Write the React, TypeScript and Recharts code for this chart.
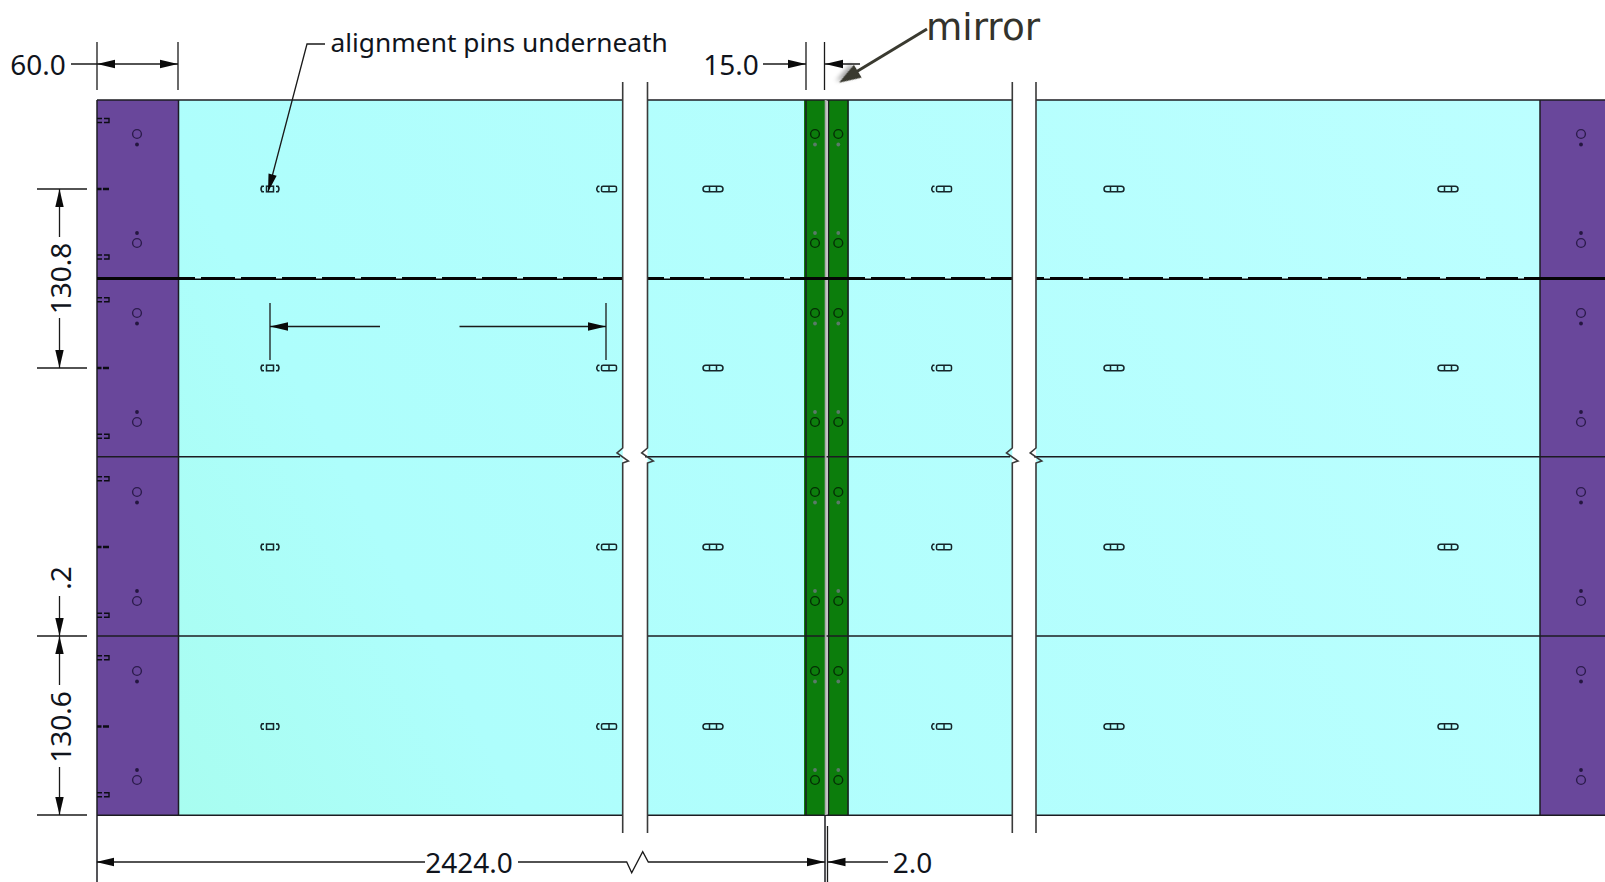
import { ReferenceArea, Scatter, ScatterChart, XAxis, YAxis } from "recharts";

type Pt = { x: number; y: number };

const purpleBands = [[97, 178.5], [1540, 1605]];
const cyanBands = [[178.5, 804], [848, 1540]];
const greenBands = [[804, 825], [828, 848.5]];
const breakGaps = [[622.7, 647.5], [1012.3, 1036]];

const solidSlotXs = [713, 1114, 1448];
const splitSlotXs = [606, 941];
const brokenSlotXs = [270];
const rowMidYs = [189, 368, 547, 726.5];
const upperHoleYs = [134, 313, 492, 671];
const lowerHoleYs = [243, 422, 601, 780];
const upperDotYs = [144.5, 323.5, 502.5, 681.5];
const lowerDotYs = [233, 412, 591, 770];
const purpleHoleXs = [137, 1581];
const greenHoleXs = [815, 838.3];
const upperTickYs = [120.5, 299.7, 478.7, 657.7];
const lowerTickYs = [257, 436.3, 615.3, 794.7];
const jointNotchXs = [
  198, 238, 279, 319, 358, 399, 439, 479, 520, 560, 600, 667, 707, 747, 787, 868, 908, 948, 988,
  1047, 1086, 1126, 1166, 1206, 1245, 1285, 1325, 1364, 1404, 1443, 1483, 1521,
];

const outlines: Pt[][] = [
  [{ x: 97, y: 100 }, { x: 622.7, y: 100 }],
  [{ x: 647.5, y: 100 }, { x: 1012.3, y: 100 }],
  [{ x: 1036, y: 100 }, { x: 1605, y: 100 }],
  [{ x: 97, y: 456.7 }, { x: 620, y: 456.7 }],
  [{ x: 645, y: 456.7 }, { x: 1010, y: 456.7 }],
  [{ x: 1034, y: 456.7 }, { x: 1605, y: 456.7 }],
  [{ x: 97, y: 636 }, { x: 622.7, y: 636 }],
  [{ x: 647.5, y: 636 }, { x: 1012.3, y: 636 }],
  [{ x: 1036, y: 636 }, { x: 1605, y: 636 }],
  [{ x: 97, y: 815.3 }, { x: 622.7, y: 815.3 }],
  [{ x: 647.5, y: 815.3 }, { x: 1012.3, y: 815.3 }],
  [{ x: 1036, y: 815.3 }, { x: 1605, y: 815.3 }],
  [{ x: 97, y: 100 }, { x: 97, y: 882 }],
  [{ x: 178.5, y: 100 }, { x: 178.5, y: 815 }],
  [{ x: 1540, y: 100 }, { x: 1540, y: 815 }],
  [{ x: 806, y: 100 }, { x: 806, y: 815 }],
  [{ x: 825, y: 815 }, { x: 825, y: 882 }],
  [{ x: 828.5, y: 100 }, { x: 828.5, y: 815 }],
  [{ x: 848, y: 100 }, { x: 848, y: 815 }],
];

const mirrorGapLine: Pt[] = [{ x: 825.7, y: 100 }, { x: 825.7, y: 815 }];

const jointLines: Pt[][] = [
  [{ x: 97, y: 278.5 }, { x: 622.7, y: 278.5 }],
  [{ x: 647.5, y: 278.5 }, { x: 1012.3, y: 278.5 }],
  [{ x: 1036, y: 278.5 }, { x: 1605, y: 278.5 }],
];

const breakLines: Pt[][] = [
  [{ x: 622.7, y: 82 }, { x: 622.7, y: 448 }, { x: 617, y: 453 }, { x: 628.3, y: 461 }, { x: 622.7, y: 463 }, { x: 622.7, y: 833 }],
  [{ x: 647.5, y: 82 }, { x: 647.5, y: 448 }, { x: 641.7, y: 453 }, { x: 653.3, y: 461 }, { x: 647.5, y: 463 }, { x: 647.5, y: 833 }],
  [{ x: 1012.3, y: 82 }, { x: 1012.3, y: 448 }, { x: 1006.5, y: 453 }, { x: 1018, y: 461 }, { x: 1012.3, y: 463 }, { x: 1012.3, y: 833 }],
  [{ x: 1036, y: 82 }, { x: 1036, y: 448 }, { x: 1030.2, y: 453 }, { x: 1041.8, y: 461 }, { x: 1036, y: 463 }, { x: 1036, y: 833 }],
];

const dimensionLines: Pt[][] = [
  // 60.0
  [{ x: 71, y: 64 }, { x: 178, y: 64 }],
  [{ x: 97, y: 42 }, { x: 97, y: 90 }],
  [{ x: 178, y: 42 }, { x: 178, y: 90 }],
  // leader for the pins
  [{ x: 325, y: 44 }, { x: 307, y: 44 }, { x: 268, y: 192 }],
  // 15.0
  [{ x: 763, y: 64 }, { x: 806, y: 64 }],
  [{ x: 825, y: 64 }, { x: 860, y: 64 }],
  [{ x: 806, y: 42 }, { x: 806, y: 90 }],
  [{ x: 824.5, y: 42 }, { x: 824.5, y: 90 }],
  // 130.8
  [{ x: 37, y: 189 }, { x: 87, y: 189 }],
  [{ x: 37, y: 368 }, { x: 87, y: 368 }],
  [{ x: 59.5, y: 189 }, { x: 59.5, y: 237 }],
  [{ x: 59.5, y: 318 }, { x: 59.5, y: 368 }],
  // .2 and 130.6
  [{ x: 37, y: 636 }, { x: 87, y: 636 }],
  [{ x: 37, y: 815 }, { x: 87, y: 815 }],
  [{ x: 59.5, y: 596 }, { x: 59.5, y: 685 }],
  [{ x: 59.5, y: 767 }, { x: 59.5, y: 815 }],
  // span between the two pins
  [{ x: 270, y: 303 }, { x: 270, y: 360 }],
  [{ x: 606, y: 303 }, { x: 606, y: 360 }],
  [{ x: 270, y: 326.5 }, { x: 380, y: 326.5 }],
  [{ x: 459.5, y: 326.5 }, { x: 606, y: 326.5 }],
  // 2424.0 and 2.0
  [{ x: 97, y: 862 }, { x: 425, y: 862 }],
  [{ x: 518, y: 862 }, { x: 626.7, y: 862 }, { x: 631.7, y: 872.7 }, { x: 642.7, y: 851.7 }, { x: 648.3, y: 862 }, { x: 825, y: 862 }],
  [{ x: 827.5, y: 862 }, { x: 888, y: 862 }],
  [{ x: 827.5, y: 826 }, { x: 827.5, y: 882 }],
];

const arrowHeads = [
  { x: 97, y: 64, angle: 180 },
  { x: 178, y: 64, angle: 0 },
  { x: 268, y: 192, angle: 104.8 },
  { x: 806, y: 64, angle: 0 },
  { x: 825, y: 64, angle: 180 },
  { x: 59.5, y: 189, angle: -90 },
  { x: 59.5, y: 368, angle: 90 },
  { x: 59.5, y: 636, angle: 90 },
  { x: 59.5, y: 636, angle: -90 },
  { x: 59.5, y: 815, angle: 90 },
  { x: 270, y: 326.5, angle: 180 },
  { x: 606, y: 326.5, angle: 0 },
  { x: 96, y: 862, angle: 180 },
  { x: 825, y: 862, angle: 0 },
  { x: 827.5, y: 862, angle: 180 },
];

const mirrorLeader: Pt[] = [{ x: 927, y: 29 }, { x: 856, y: 72 }];
const mirrorTip = [{ x: 839, y: 82.7, angle: 148.6 }];

const dimensionLabels = [
  { x: 38, y: 64, text: "60.0", rotate: 0 },
  { x: 731, y: 64, text: "15.0", rotate: 0 },
  { x: 469, y: 862, text: "2424.0", rotate: 0 },
  { x: 912.5, y: 862, text: "2.0", rotate: 0 },
  { x: 60, y: 278.5, text: "130.8", rotate: -90 },
  { x: 60, y: 578, text: ".2", rotate: -90 },
  { x: 60, y: 727, text: "130.6", rotate: -90 },
];
const leaderLabel = [{ x: 330.5, y: 42, text: "alignment pins underneath" }];
const mirrorLabel = [{ x: 926, y: 27, text: "mirror" }];

const cross = (xs: number[], ys: number[]) => xs.flatMap((x) => ys.map((y) => ({ x, y })));
const leftEdge = 97;

const NoMark = () => <g />;

const Arrow = ({ cx, cy, payload }: any) => (
  <polygon
    points="0,0 -18,-4.2 -18,4.2"
    fill="#0a0a0a"
    transform={`translate(${cx} ${cy}) rotate(${payload.angle})`}
  />
);

const MirrorArrow = ({ cx, cy, payload }: any) => (
  <polygon
    points="0,0 -22,-7.5 -22,7.5"
    fill="#3a3a30"
    style={{ filter: "drop-shadow(2px 3px 2px rgba(0,0,0,0.35))" }}
    transform={`translate(${cx} ${cy}) rotate(${payload.angle})`}
  />
);

const SolidSlot = ({ cx, cy }: any) => (
  <g fill="none" stroke="#16262a" strokeWidth={1.5}>
    <rect x={cx - 10} y={cy - 2.8} width={20} height={5.6} rx={2.8} />
    <path d={`M${cx - 3.5} ${cy - 2.8}V${cy + 2.8}M${cx + 3.5} ${cy - 2.8}V${cy + 2.8}`} />
  </g>
);

// left cap drawn apart from the rest of the slot
const SplitSlot = ({ cx, cy }: any) => (
  <g fill="none" stroke="#16262a" strokeWidth={1.5}>
    <path d={`M${cx - 6.5} ${cy - 2.8}H${cx - 8}Q${cx - 10.5} ${cy} ${cx - 8} ${cy + 2.8}H${cx - 6.5}`} />
    <rect x={cx - 4.5} y={cy - 2.8} width={15} height={5.6} rx={1.6} />
    <path d={`M${cx + 3} ${cy - 2.8}V${cy + 2.8}`} />
  </g>
);

const BrokenSlot = ({ cx, cy }: any) => (
  <g fill="none" stroke="#16262a" strokeWidth={1.5}>
    <path d={`M${cx - 6} ${cy - 2.8}H${cx - 8}Q${cx - 10} ${cy} ${cx - 8} ${cy + 2.8}H${cx - 6}`} />
    <rect x={cx - 3.5} y={cy - 2.8} width={7} height={5.6} />
    <path d={`M${cx + 6} ${cy - 2.8}H${cx + 8}Q${cx + 10} ${cy} ${cx + 8} ${cy + 2.8}H${cx + 6}`} />
  </g>
);

const SolidTick = ({ cx, cy }: any) => (
  <path d={`M${cx} ${cy}h4.5M${cx + 6} ${cy}h6`} stroke="#0c0c14" strokeWidth={2.6} fill="none" />
);

const OpenTick = ({ cx, cy }: any) => (
  <path
    d={`M${cx} ${cy - 2}h5M${cx} ${cy + 2}h5M${cx + 7} ${cy - 2}h5v4h-5`}
    stroke="#0c0c14"
    strokeWidth={1.4}
    fill="none"
  />
);

const Hole = (stroke: string) => ({ cx, cy }: any) => (
  <circle cx={cx} cy={cy} r={4.4} fill="none" stroke={stroke} strokeWidth={1.4} />
);

const Dot = (fill: string) => ({ cx, cy }: any) => <circle cx={cx} cy={cy} r={1.9} fill={fill} />;

const Notch = ({ cx, cy }: any) => <rect x={cx - 3} y={cy - 1.5} width={6} height={2} fill="#c6ffff" />;

const DimText = ({ cx, cy, payload }: any) => (
  <text
    x={cx}
    y={cy}
    textAnchor="middle"
    dominantBaseline="central"
    fontFamily="'Noto Sans', sans-serif"
    fontSize={28}
    fill="#10141c"
    transform={`rotate(${payload.rotate} ${cx} ${cy})`}
  >
    {payload.text}
  </text>
);

const LeaderText = ({ cx, cy, payload }: any) => (
  <text x={cx} y={cy} dominantBaseline="central" fontFamily="'Noto Sans', sans-serif" fontSize={26.3} fill="#10141c">
    {payload.text}
  </text>
);

const MirrorText = ({ cx, cy, payload }: any) => (
  <text x={cx} y={cy} dominantBaseline="central" fontFamily="'DejaVu Sans', sans-serif" fontSize={37.3} fill="#33332c">
    {payload.text}
  </text>
);

const polyline = (key: string, points: Pt[], stroke: string, strokeWidth: number) => (
  <Scatter
    key={key}
    data={points}
    line={{ stroke, strokeWidth }}
    lineType="joint"
    shape={NoMark}
    isAnimationActive={false}
  />
);

export default function App() {
  return (
    <div style={{ position: "absolute", left: 0, top: 0, width: 1605, height: 882, background: "#fff", overflow: "hidden" }}>
      <ScatterChart width={1605} height={882} margin={{ top: 0, right: 0, bottom: 0, left: 0 }}>
        <defs>
          <linearGradient id="panelCyan" gradientUnits="userSpaceOnUse" x1={178} y1={815} x2={1540} y2={100}>
            <stop offset="0" stopColor="#a8fdf0" />
            <stop offset="0.2" stopColor="#aefefc" />
            <stop offset="1" stopColor="#bcffff" />
          </linearGradient>
        </defs>
        <XAxis type="number" dataKey="x" domain={[0, 1605]} hide allowDataOverflow />
        <YAxis type="number" dataKey="y" domain={[0, 882]} reversed hide allowDataOverflow width={0} />

        {cyanBands.map(([a, b]) => (
          <ReferenceArea key={a} x1={a} x2={b} y1={100} y2={815} fill="url(#panelCyan)" fillOpacity={1} stroke="none" />
        ))}
        {purpleBands.map(([a, b]) => (
          <ReferenceArea key={a} x1={a} x2={b} y1={100} y2={815} fill="#69479b" fillOpacity={1} stroke="none" />
        ))}
        {greenBands.map(([a, b]) => (
          <ReferenceArea key={a} x1={a} x2={b} y1={100} y2={815} fill="#0c7d0c" fillOpacity={1} stroke="none" />
        ))}
        {breakGaps.map(([a, b]) => (
          <ReferenceArea key={a} x1={a} x2={b} y1={100} y2={815} fill="#ffffff" fillOpacity={1} stroke="none" />
        ))}

        {outlines.map((pts, i) => polyline(`o${i}`, pts, "#1c1c22", 1.5))}
        {polyline("gap", mirrorGapLine, "#a9a9a9", 2)}
        {jointLines.map((pts, i) => polyline(`j${i}`, pts, "#050505", 3))}
        {breakLines.map((pts, i) => polyline(`b${i}`, pts, "#3a3a3a", 1.6))}
        {dimensionLines.map((pts, i) => polyline(`d${i}`, pts, "#1a1a1a", 1.3))}
        {polyline("mirror", mirrorLeader, "#3a3a30", 3)}

        <Scatter
          data={jointNotchXs.map((x) => ({ x, y: 278 }))}
          shape={Notch}
          isAnimationActive={false}
        />
        <Scatter data={cross(solidSlotXs, rowMidYs)} shape={SolidSlot} isAnimationActive={false} />
        <Scatter data={cross(splitSlotXs, rowMidYs)} shape={SplitSlot} isAnimationActive={false} />
        <Scatter data={cross(brokenSlotXs, rowMidYs)} shape={BrokenSlot} isAnimationActive={false} />
        <Scatter data={cross([leftEdge], rowMidYs)} shape={SolidTick} isAnimationActive={false} />
        <Scatter data={cross([leftEdge], [...upperTickYs, ...lowerTickYs])} shape={OpenTick} isAnimationActive={false} />
        <Scatter data={cross(purpleHoleXs, [...upperHoleYs, ...lowerHoleYs])} shape={Hole("#2c1c4c")} isAnimationActive={false} />
        <Scatter data={cross(purpleHoleXs, [...upperDotYs, ...lowerDotYs])} shape={Dot("#241640")} isAnimationActive={false} />
        <Scatter data={cross(greenHoleXs, [...upperHoleYs, ...lowerHoleYs])} shape={Hole("#052e05")} isAnimationActive={false} />
        <Scatter data={cross(greenHoleXs, [...upperDotYs, ...lowerDotYs])} shape={Dot("#5a7a68")} isAnimationActive={false} />

        <Scatter data={arrowHeads} shape={Arrow} isAnimationActive={false} />
        <Scatter data={mirrorTip} shape={MirrorArrow} isAnimationActive={false} />
        <Scatter data={dimensionLabels} shape={DimText} isAnimationActive={false} />
        <Scatter data={leaderLabel} shape={LeaderText} isAnimationActive={false} />
        <Scatter data={mirrorLabel} shape={MirrorText} isAnimationActive={false} />
      </ScatterChart>
    </div>
  );
}
